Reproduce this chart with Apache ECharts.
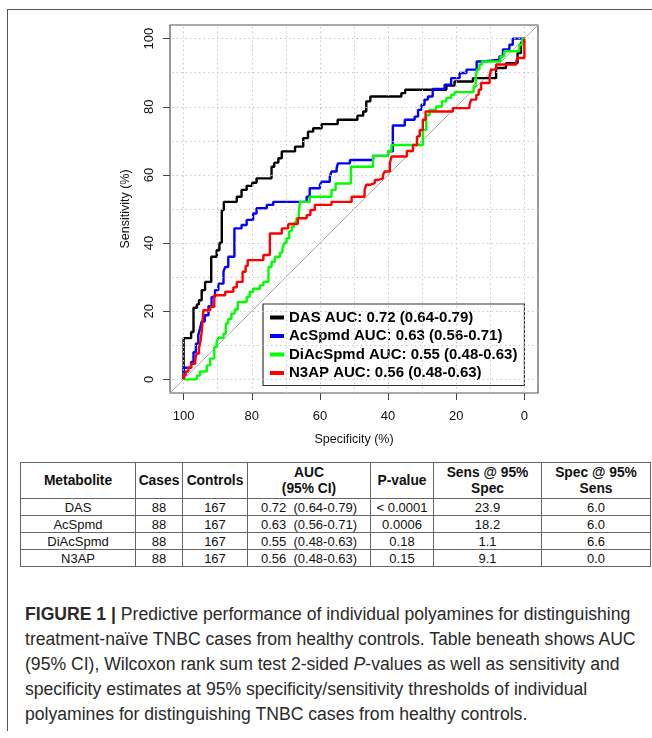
<!DOCTYPE html>
<html>
<head>
<meta charset="utf-8">
<script src="https://cdn.jsdelivr.net/npm/echarts@6/dist/echarts.min.js"></script>
<style>
  body { margin: 0; background: #fff; font-family: "Liberation Sans", Arial, sans-serif; }
  #page { position: relative; width: 652px; height: 738px; overflow: hidden; background: #fff; }
  #roc { position: absolute; left: 0; top: 0; width: 652px; height: 456px; }
  .frameTop { position: absolute; left: 7px; top: 9px; width: 645px; border-top: 1.5px solid #555; }
  .frameLeft { position: absolute; left: 7px; top: 9px; height: 722px; border-left: 1.5px solid #555; }
  table { position: absolute; left: 20px; top: 462px; border-collapse: collapse; font-size: 13px; color: #111; table-layout: fixed; }
  td, th { border: 1px solid #666; text-align: center; vertical-align: middle; padding: 0; white-space: nowrap; }
  th { height: 35px; font-weight: bold; font-size: 13.8px; line-height: 16px; }
  td { height: 16px; line-height: 15px; }
  #caption { position: absolute; left: 25px; top: 602px; font-size: 17.6px; line-height: 25px; color: #2a2a2a; white-space: nowrap; }
</style>
</head>
<body>
<div id="page">
  <div id="roc"></div>
  <div class="frameTop"></div>
  <div class="frameLeft"></div>
  <table id="tbl"></table>
  <div id="caption">
    <b>FIGURE 1 |</b> Predictive performance of individual polyamines for distinguishing<br>
    treatment-naïve TNBC cases from healthy controls. Table beneath shows AUC<br>
    (95% CI), Wilcoxon rank sum test 2-sided <i>P</i>-values as well as sensitivity and<br>
    specificity estimates at 95% specificity/sensitivity thresholds of individual<br>
    polyamines for distinguishing TNBC cases from healthy controls.
  </div>
</div>
<script>
// metabolites and their summary values (from the table)
let metabolites = ['DAS', 'AcSpmd', 'DiAcSpmd', 'N3AP'];
let cases = [88, 88, 88, 88];
let controls = [167, 167, 167, 167];
let aucText = ['0.72 (0.64-0.79)', '0.63 (0.56-0.71)', '0.55 (0.48-0.63)', '0.56 (0.48-0.63)'];
let pValues = ['< 0.0001', '0.0006', '0.18', '0.15'];
let sensAt95Spec = ['23.9', '18.2', '1.1', '9.1'];
let specAt95Sens = ['6.0', '6.0', '6.6', '0.0'];

// axis ticks and grid
let xTicks = [0, 20, 40, 60, 80, 100];
let yTicks = [0, 20, 40, 60, 80, 100];
let gridVals = [0, 10, 20, 30, 40, 50, 60, 70, 80, 90, 100];

// ROC curves: specificity (%) / sensitivity (%) (step corners)
let dasSpec = [100, 97.8, 97.1, 96.1, 95.5, 94.7, 93.7, 91.9, 90.3, 89.5, 88.8, 88.2, 84.4, 83.0, 81.5, 79.9, 78.6, 74.2, 73.4, 72.2, 71.2, 67.3, 64.9, 63.5, 62.0, 59.5, 54.8, 49.0, 47.3, 46.4, 45.2, 36.1, 35.0, 22.9, 20.5, 15.1, 8.3, 5.4, 2.0, 1.0, 0.4, 0];
let dasSens = [0, 12.1, 13.9, 21.0, 22.0, 23.2, 26.2, 28.6, 36.0, 37.9, 40.0, 49.7, 52.1, 53.6, 55.6, 56.8, 57.7, 59.0, 62.4, 63.6, 64.9, 66.9, 68.3, 70.8, 72.7, 73.7, 74.9, 76.2, 77.4, 78.6, 81.6, 83.0, 84.0, 85.0, 86.2, 87.4, 88.4, 91.4, 92.8, 95.8, 98.9, 100];

let acSpec = [100, 97.8, 97.1, 96.4, 95.7, 95.2, 94.7, 93.8, 92.7, 91.8, 90.8, 89.8, 88.3, 87.8, 86.9, 85.1, 83.0, 81.5, 79.6, 78.6, 75.6, 73.7, 63.9, 63.0, 60.0, 59.5, 57.1, 56.6, 55.1, 54.7, 51.2, 44.4, 40.0, 38.6, 35.1, 32.2, 31.2, 30.2, 29.3, 28.3, 26.9, 23.4, 21.5, 19.0, 17.0, 14.0, 12.2, 7.3, 6.3, 4.4, 3.4, 0];
let acSens = [0, 3.4, 5.1, 8.0, 10.5, 13.0, 14.9, 17.0, 18.8, 21.5, 24.2, 26.2, 28.1, 31.6, 33.0, 36.0, 44.3, 45.3, 46.8, 48.7, 50.2, 51.2, 52.1, 53.6, 56.1, 57.1, 58.0, 59.5, 61.0, 62.0, 63.4, 64.4, 65.6, 66.9, 74.5, 76.2, 77.1, 79.1, 80.6, 82.1, 83.0, 85.2, 86.5, 88.4, 89.9, 90.9, 93.3, 93.8, 94.8, 96.8, 98.2, 100];

let diacSpec = [100, 96.1, 95.2, 93.2, 92.2, 91.0, 90.3, 89.8, 88.3, 87.6, 86.9, 86.0, 85.0, 84.1, 81.5, 80.6, 79.6, 77.6, 76.6, 75.1, 74.2, 73.2, 71.7, 71.0, 70.5, 69.8, 69.0, 68.3, 67.6, 66.9, 66.2, 65.9, 63.0, 56.6, 55.4, 50.9, 44.4, 40.0, 39.0, 29.8, 28.8, 27.8, 25.9, 24.2, 22.9, 21.5, 20.5, 14.9, 14.3, 13.9, 13.2, 12.4, 7.0, 5.9, 1.5, 0.6, 0];
let diacSens = [0, 0, 1.1, 2.3, 4.1, 6.1, 9.5, 11.0, 12.2, 13.4, 16.4, 17.7, 19.3, 20.5, 22.7, 24.2, 25.7, 26.6, 27.6, 28.6, 33.0, 34.5, 36.0, 37.2, 38.4, 40.0, 41.4, 43.5, 44.8, 46.0, 47.3, 48.5, 52.1, 53.6, 55.6, 57.5, 62.4, 65.6, 66.9, 68.8, 73.2, 77.6, 79.1, 80.1, 81.6, 82.6, 83.5, 84.3, 86.0, 88.4, 90.9, 92.4, 93.3, 94.8, 96.3, 98.2, 100];

let n3apSpec = [100, 99.4, 98.6, 97.8, 96.6, 96.2, 95.5, 95.0, 94.6, 94.2, 92.2, 91.0, 87.8, 85.4, 84.4, 82.7, 81.8, 81.2, 76.6, 74.7, 71.2, 69.3, 66.5, 63.9, 62.8, 61.5, 56.6, 50.7, 46.9, 46.4, 45.4, 43.9, 43.0, 41.5, 41.0, 39.5, 39.0, 34.5, 32.7, 31.5, 30.7, 29.8, 29.0, 21.0, 16.1, 15.6, 14.1, 13.4, 12.7, 10.2, 9.8, 8.3, 2.4, 2.0, 0, 0];
let n3apSens = [0, 1.2, 2.3, 3.4, 4.6, 5.7, 7.6, 9.1, 11.5, 14.8, 20.3, 21.3, 24.7, 25.7, 27.0, 28.6, 31.6, 33.3, 35.0, 36.5, 42.8, 44.3, 45.6, 47.3, 48.2, 49.7, 51.2, 52.1, 53.6, 55.6, 57.1, 57.6, 58.5, 59.0, 60.0, 61.0, 63.4, 65.4, 67.0, 68.8, 71.3, 73.2, 76.2, 78.6, 79.6, 80.6, 82.1, 83.5, 85.0, 87.0, 88.9, 90.9, 92.4, 93.3, 94.3, 100];

let legendLabels = [
    'DAS AUC: 0.72 (0.64-0.79)',
    'AcSpmd AUC: 0.63 (0.56-0.71)',
    'DiAcSpmd AUC: 0.55 (0.48-0.63)',
    'N3AP AUC: 0.56 (0.48-0.63)'
];
let colors = ['#000000', '#0000ff', '#00ff00', '#ff0000'];

let xMin = -4, xMax = 104;

function zip(a, b) {
    return a.map(function (v, i) { return [v, b[i]]; });
}

// table
let tbl = document.getElementById('tbl');
let html = '<colgroup><col style="width:115px"><col style="width:47px"><col style="width:65px">' +
    '<col style="width:123px"><col style="width:63px"><col style="width:108px"><col style="width:109px"></colgroup>';
html += '<tr><th>Metabolite</th><th>Cases</th><th>Controls</th><th>AUC<br>(95% CI)</th><th>P-value</th>' +
    '<th>Sens @ 95%<br>Spec</th><th>Spec @ 95%<br>Sens</th></tr>';
for (let i = 0; i < metabolites.length; i++) {
    html += '<tr><td>' + metabolites[i] + '</td><td>' + cases[i] + '</td><td>' + controls[i] +
        '</td><td>' + aucText[i].replace(' ', '&nbsp; ') + '</td><td>' + pValues[i] + '</td><td>' + sensAt95Spec[i] +
        '</td><td>' + specAt95Sens[i] + '</td></tr>';
}
tbl.innerHTML = html;

let font = 'Liberation Sans, Arial, sans-serif';
let myChart = echarts.init(document.getElementById('roc'));

let curves = [dasSpec, acSpec, diacSpec, n3apSpec];
let curveSens = [dasSens, acSens, diacSens, n3apSens];
let series = [];

// dotted grid
series.push({
    type: 'line',
    data: [],
    silent: true,
    z: 1,
    markLine: {
        silent: true,
        symbol: ['none', 'none'],
        label: { show: false },
        lineStyle: { type: [1.5, 3], color: '#c8c8c8', width: 1 },
        data: gridVals.map(function (v) { return { xAxis: v }; })
            .concat(gridVals.map(function (v) { return { yAxis: v }; }))
    }
});
// chance diagonal
series.push({
    type: 'line',
    data: [[xMax, 100 - xMax], [xMin, 100 - xMin]],
    showSymbol: false,
    silent: true,
    z: 2,
    lineStyle: { color: '#b0b0b0', width: 1 }
});
for (let i = 0; i < metabolites.length; i++) {
    series.push({
        name: metabolites[i],
        type: 'line',
        step: 'start',
        data: zip(curves[i], curveSens[i]),
        showSymbol: false,
        z: 3 + i,
        color: colors[i],
        lineStyle: { color: colors[i], width: 2.4 }
    });
}

let option = {
    animation: false,
    grid: {
        left: 170, top: 25, width: 368, height: 368,
        show: true, borderColor: '#555', borderWidth: 1.2, backgroundColor: 'transparent'
    },
    xAxis: {
        type: 'value', min: xMin, max: xMax, inverse: true,
        axisLine: { show: false, onZero: false },
        axisTick: { show: true, customValues: xTicks, length: 7, lineStyle: { color: '#444', width: 1 } },
        axisLabel: { customValues: xTicks, margin: 17, fontSize: 13, color: '#111', fontFamily: font },
        splitLine: { show: false },
        name: 'Specificity (%)', nameLocation: 'middle', nameGap: 40,
        nameTextStyle: { fontSize: 12.5, color: '#111', fontFamily: font }
    },
    yAxis: {
        type: 'value', min: xMin, max: xMax,
        axisLine: { show: false, onZero: false },
        axisTick: { show: true, customValues: yTicks, length: 7, lineStyle: { color: '#444', width: 1 } },
        axisLabel: { customValues: yTicks, rotate: 90, margin: 14, fontSize: 13, color: '#111', fontFamily: font },
        splitLine: { show: false },
        name: 'Sensitivity (%)', nameLocation: 'middle', nameGap: 38, nameRotate: 90,
        nameTextStyle: { fontSize: 12.5, color: '#111', fontFamily: font }
    },
    legend: {
        data: metabolites,
        orient: 'vertical',
        left: 263, top: 304,
        padding: [6, 7, 5, 7],
        itemGap: 3.5,
        itemWidth: 14, itemHeight: 4,
        icon: 'rect',
        backgroundColor: '#fff',
        borderColor: '#333', borderWidth: 1.2,
        formatter: function (name) { return legendLabels[metabolites.indexOf(name)]; },
        textStyle: { fontSize: 15, fontWeight: 'bold', color: '#000', fontFamily: font, lineHeight: 15 }
    },
    series: series
};
myChart.setOption(option);
window.onresize = function () {
    myChart.resize();
};
</script>
</body>
</html>
